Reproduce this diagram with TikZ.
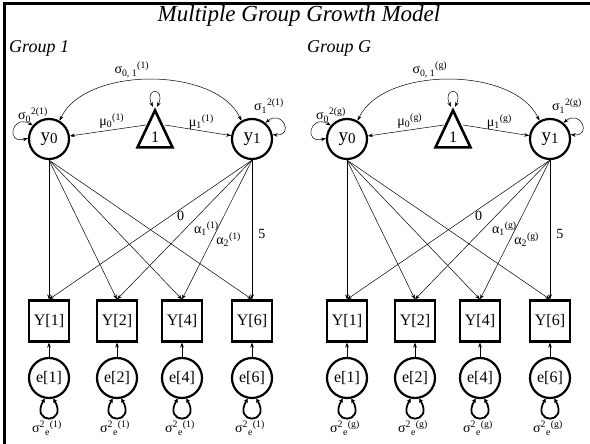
\documentclass[tikz,border=0pt]{standalone}
\usepackage{fontspec}
\setmainfont{Liberation Serif}
\usetikzlibrary{shapes.geometric,arrows.meta}
\newcommand\fs[1]{\fontsize{#1}{#1}\selectfont}
\tikzset{
  lat/.style={circle, draw, line width=2.2pt, minimum size=40pt, inner sep=0pt, font=\fs{19}},
  obs/.style={rectangle, draw, line width=2.2pt, minimum width=40pt, minimum height=41pt, inner sep=0pt, font=\fs{16}},
  err/.style={circle, draw, line width=2.2pt, minimum size=40pt, inner sep=0pt, font=\fs{16}},
  const/.style={isosceles triangle, shape border rotate=90, isosceles triangle stretches=true,
     minimum width=35pt, minimum height=37pt, draw, line width=2.6pt, inner sep=0pt, font=\fs{16}},
  tip/.tip={Stealth[length=5pt,width=3.6pt]},
  conn/.style={line width=0.5pt, -tip},
  dconn/.style={line width=0.5pt, tip-tip},
  eloop/.style={line width=1.8pt, {Stealth[length=4pt,width=4.5pt]}-{Stealth[length=4pt,width=4.5pt]}},
  lbl/.style={font=\fs{14}, inner sep=1pt},
  num/.style={font=\fs{14}, inner sep=1pt},
  grouplbl/.style={font=\itshape\fs{18}, anchor=base west, inner sep=0pt},
}
\newcommand\grp[4]{%
\begin{scope}[xshift=#1pt]
  \node[grouplbl] (#2glab) at (9,391) {#3};
  \node[lat] (#2y0) at (49,305) {y\raisebox{-2pt}{\fs{15}0}};
  \node[lat] (#2y1) at (252,305) {y\raisebox{-2pt}{\fs{15}1}};
  \node[const, anchor=apex] (#2tri) at (155,337) {\raisebox{-6pt}{1}};
  \coordinate (#2tl) at (146,319);
  \coordinate (#2tr) at (165,319);
  \foreach \i/\xx in {1/49,2/117,4/182,6/252}{
    \node[obs] (#2Y\i) at (\xx,123) {Y[\i]};
    \node[err] (#2e\i) at (\xx,66) {e[\i]};
    \draw[conn] (#2e\i.north) -- (#2Y\i.south);
    \draw[eloop] (#2e\i.258) .. controls +(240:30) and +(300:30) .. (#2e\i.282);
    \node[lbl] (#2el\i) at (\xx-2,16) {σ\textsuperscript{2}\textsubscript{e}\textsuperscript{#4}};
    \draw[conn] (#2y0.south) -- (#2Y\i.north);
  }
  \draw[conn] (#2y1.south) -- node[num, pos=0.4, anchor=west, xshift=5pt] {0} (#2Y1.north);
  \draw[conn] (#2y1.south) -- node[lbl, pos=0.49, anchor=west, xshift=7pt] {α\textsubscript{1}\textsuperscript{#4}} (#2Y2.north);
  \draw[conn] (#2y1.south) -- node[lbl, pos=0.57, anchor=west, xshift=3pt] {α\textsubscript{2}\textsuperscript{#4}} (#2Y4.north);
  \draw[conn] (#2y1.south) -- node[num, pos=0.53, anchor=west, xshift=5pt] {5} (#2Y6.north);
  \draw[conn] (#2tl) -- node[lbl, pos=0.45, above] {μ\textsubscript{0}\textsuperscript{#4}} (#2y0);
  \draw[conn] (#2tr) -- node[lbl, pos=0.55, above] {μ\textsubscript{1}\textsuperscript{#4}} (#2y1);
  \draw[dconn] (#2y0.60) to[out=65, in=115, looseness=0.85]
     node[lbl, pos=0.42, anchor=south, yshift=2pt] {σ\textsubscript{0, 1}\textsuperscript{#4}} (#2y1.120);
  \draw[dconn] (#2y0.140) .. controls +(150:24) and +(195:24) .. (#2y0.178);
  \node[lbl] (#2s0) at (33,329) {σ\textsubscript{0}\textsuperscript{2#4}};
  \draw[dconn] (#2y1.50) .. controls +(40:22) and +(-5:22) .. (#2y1.12);
  \node[lbl] (#2s1) at (269,338) {σ\textsubscript{1}\textsuperscript{2#4}};
  \draw[dconn] ([xshift=-2pt]#2tri.apex) .. controls +(115:22) and +(65:22) .. ([xshift=2pt]#2tri.apex);
\end{scope}}
\begin{document}
\begin{tikzpicture}[x=1pt,y=1pt]
  \useasboundingbox (0,0) rectangle (590,444);
  \draw[line width=3pt] (4,0) -- (4,440.5) -- (590,440.5);
  \node[font=\itshape\fs{23}, anchor=base, inner sep=0pt] (title) at (299,422) {Multiple Group Growth Model};
  \grp{0}{a}{Group 1}{(1)}
  \grp{298}{b}{Group G}{(g)}
\end{tikzpicture}
\end{document}
